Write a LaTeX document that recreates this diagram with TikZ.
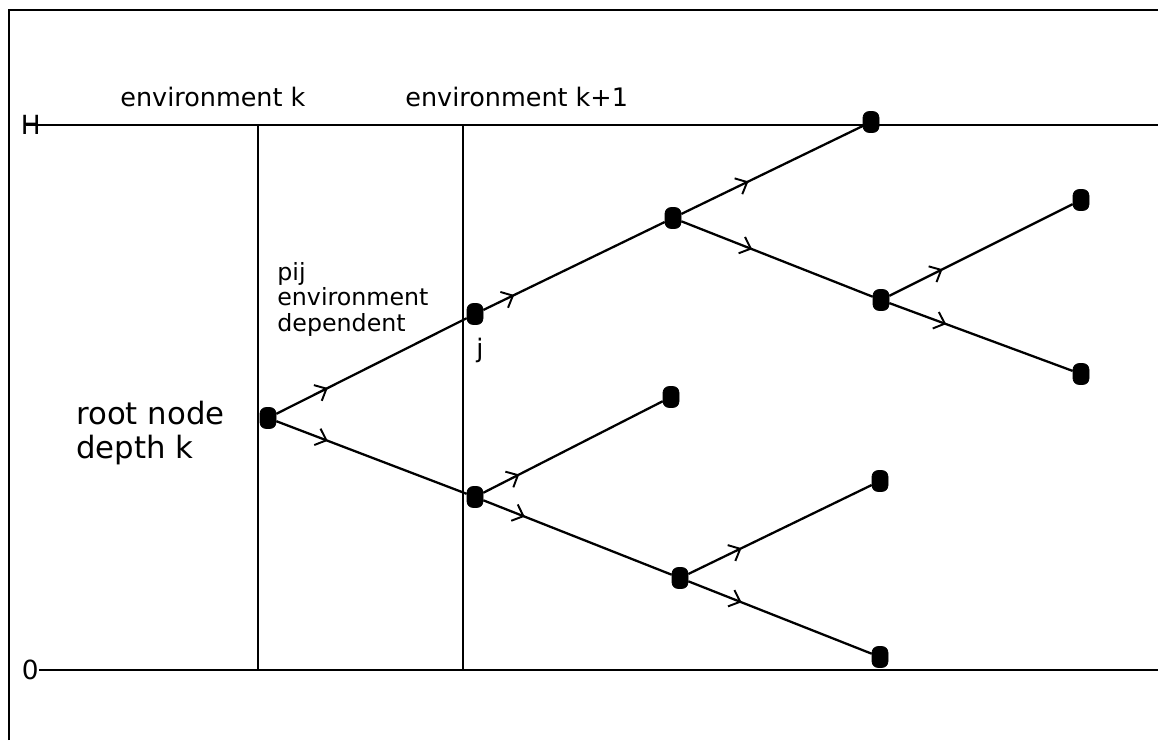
\documentclass[tikz,border=0pt]{standalone}
\usepackage{fontspec}
\setmainfont{DejaVu Sans}
\usetikzlibrary{arrows.meta,decorations.markings}
\tikzset{
  rule/.style={line width=1.3pt},
  frameline/.style={line width=1pt},
  state/.style={draw,fill=black,rounded corners=3.5pt,minimum width=0.32cm,minimum height=0.42cm,inner sep=0pt},
  lbl/.style={anchor=base west,inner sep=0pt,font=\fontsize{14.5}{16}\selectfont},
  notelbl/.style={anchor=base west,inner sep=0pt,font=\fontsize{13.5}{15}\selectfont},
  biglbl/.style={anchor=base west,inner sep=0pt,font=\fontsize{17.5}{20}\selectfont},
  axislbl/.style={anchor=east,inner sep=0pt,font=\fontsize{15}{17}\selectfont},
  branch/.style={line width=1.3pt,postaction={decorate},
    decoration={markings,mark=at position #1 with {\arrow{Straight Barb[length=5.5pt,width=10pt,line width=1.1pt]}}}},
  branch/.default=0.3
}
\begin{document}
\begin{tikzpicture}[x=0.02cm,y=-0.02cm]
\useasboundingbox (0,0) rectangle (1158,740);
% outer frame (left and top edges only)
\draw[frameline] (9,740) -- (9,10) -- (1158,10);

% axis levels H and 0
\coordinate (hl) at (26,125);
\coordinate (hr) at (1158,125);
\coordinate (zl) at (26,670);
\coordinate (zr) at (1158,670);
\draw[rule] (hl) -- (hr);
\draw[rule] (zl) -- (zr);
\node[axislbl] (hlab) at (41,125) {H};
\node[axislbl,fill=white] (zlab) at (39,670) {0};

% environment boundaries
\coordinate (e1t) at (258,125);
\coordinate (e1b) at (258,670);
\coordinate (e2t) at (463,125);
\coordinate (e2b) at (463,670);
\draw[rule] (e1t) -- (e1b);
\draw[rule] (e2t) -- (e2b);

\node[lbl] (envk) at (120,107) {environment k};
\node[lbl] (envk1) at (405,107) {environment k+1};

% tree nodes
\node[state] (r) at (268,418) {};
\node[state] (j) at (475,314) {};
\node[state] (a) at (475,497) {};
\node[state] (b) at (673,218) {};
\node[state] (c) at (871,122) {};
\node[state] (d) at (881,300) {};
\node[state] (e) at (1081,200) {};
\node[state] (f) at (1081,374) {};
\node[state] (g) at (671,397) {};
\node[state] (h) at (680,578) {};
\node[state] (i) at (880,481) {};
\node[state] (k) at (880,657) {};

% branches
\draw[branch=0.27] (r) -- (j);
\draw[branch=0.27] (r) -- (a);
\draw[branch=0.17] (j) -- (b);
\draw[branch=0.37] (b) -- (c);
\draw[branch=0.37] (b) -- (d);
\draw[branch=0.29] (d) -- (e);
\draw[branch=0.31] (d) -- (f);
\draw[branch=0.2] (a) -- (g);
\draw[branch=0.22] (a) -- (h);
\draw[branch=0.29] (h) -- (i);
\draw[branch=0.29] (h) -- (k);

% annotations
\node[notelbl] (pij) at (277,280) {pij};
\node[notelbl] (envdep) at (277,305) {environment};
\node[notelbl] (dep) at (277,331) {dependent};
\node[lbl] (jlab) at (476,357) {j};
\node[biglbl] (root) at (76,424) {root node};
\node[biglbl] (depth) at (76,458) {depth k};
\end{tikzpicture}
\end{document}
